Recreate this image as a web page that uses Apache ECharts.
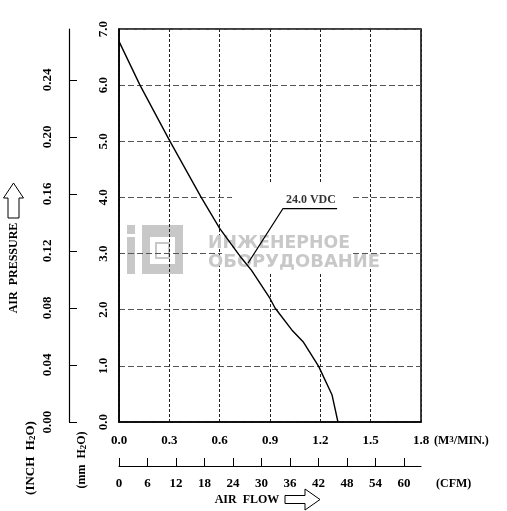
<!DOCTYPE html>
<html><head><meta charset="utf-8">
<script src="https://cdn.jsdelivr.net/npm/echarts@6/dist/echarts.min.js"></script>
<style>html,body{margin:0;padding:0;background:#fff}#c{width:507px;height:511px}</style>
</head><body><div id="c"></div>
<script>
// ---- data ----
const flowM3 = [0, 0.125, 0.30, 0.49, 0.60, 0.73, 0.79, 0.90, 0.93, 1.03, 1.10, 1.19, 1.27, 1.305];
const pressureMm = [6.78, 6.00, 5.02, 4.00, 3.45, 2.92, 2.70, 2.20, 2.03, 1.64, 1.42, 0.99, 0.48, 0.00];
const inchTicks = [0, 0.04, 0.08, 0.12, 0.16, 0.20, 0.24];
const cfmTicks = [0, 6, 12, 18, 24, 30, 36, 42, 48, 54, 60];
const curveLabel = '24.0 VDC';
const labelAt = [1.144, 3.95];
const leaderX = [1.30, 0.977, 0.769];
const leaderY = [3.80, 3.80, 2.83];
const MM_PER_INCH = 25.4;
const CFM_PER_M3MIN = 35.3147;
const flowMax = 1.8, mmMax = 7;

const FONT = '"Liberation Serif", "Times New Roman", serif';
const txt = (size) => ({color: '#000', fontFamily: FONT, fontWeight: 'bold', fontSize: size});

const chart = echarts.init(document.getElementById('c'));

function measure(text, font) {
  const c = document.createElement('canvas').getContext('2d');
  c.font = font; return c.measureText(text).width;
}
const wmFont = 'bold 18px "DejaVu Sans"';
const wm1 = 'ИНЖЕНЕРНОЕ', wm2 = 'ОБОРУДОВАНИЕ';
const s1 = 142 / measure(wm1, wmFont), s2 = 172 / measure(wm2, wmFont);
const WM = '#c8c8c8';

const graphic = [
  // logo (under the grid lines)
  {type: 'rect', z: -1, shape: {x: 127, y: 225, width: 8, height: 9}, style: {fill: WM}},
  {type: 'rect', z: -1, shape: {x: 127, y: 237, width: 8, height: 37}, style: {fill: WM}},
  {type: 'rect', z: -1, shape: {x: 142, y: 225, width: 41, height: 49}, style: {fill: WM}},
  {type: 'rect', z: -1, shape: {x: 150, y: 237, width: 25, height: 27}, style: {fill: '#fff'}},
  {type: 'rect', z: -1, shape: {x: 156, y: 243, width: 13, height: 15}, style: {fill: 'none', stroke: WM, lineWidth: 2}},
  // white covers
  {type: 'rect', z: 1, shape: {x: 232, y: 183, width: 120, height: 52}, style: {fill: '#fff'}},
  {type: 'rect', z: 1, shape: {x: 222, y: 234, width: 130, height: 40}, style: {fill: '#fff'}},
  // watermark texts
  {type: 'text', z: 1, x: 208, y: 243.5, scaleX: s1, style: {text: wm1, font: wmFont, fill: WM, textVerticalAlign: 'middle'}},
  {type: 'text', z: 1, x: 208, y: 262.5, scaleX: s2, style: {text: wm2, font: wmFont, fill: WM, textVerticalAlign: 'middle'}},
  // axis titles
  {type: 'text', z: 10, x: 14, y: 268, rotation: Math.PI / 2,
   style: {text: 'AIR  PRESSURE', font: 'bold 12px ' + FONT, fill: '#000', textAlign: 'center', textVerticalAlign: 'middle'}},
  {type: 'polygon', z: 10, shape: {points: [[13.5, 183], [23.5, 198], [19, 198], [19, 218], [8, 218], [8, 198], [3.5, 198]]},
   style: {fill: 'none', stroke: '#000', lineWidth: 1}},
  {type: 'text', z: 10, x: 31, y: 458, rotation: Math.PI / 2,
   style: {text: '(INCH  H{s|2}O)', fontFamily: FONT, fontWeight: 'bold', fontSize: 13, fill: '#000', textAlign: 'center', textVerticalAlign: 'middle',
     rich: {s: {fontFamily: FONT, fontWeight: 'bold', fontSize: 9, fill: '#000', verticalAlign: 'bottom', lineHeight: 8}}}},
  {type: 'text', z: 10, x: 82, y: 460, rotation: Math.PI / 2,
   style: {text: '(mm  H{s|2}O)', fontFamily: FONT, fontWeight: 'bold', fontSize: 12, fill: '#000', textAlign: 'center', textVerticalAlign: 'middle',
     rich: {s: {fontFamily: FONT, fontWeight: 'bold', fontSize: 9, fill: '#000', verticalAlign: 'bottom', lineHeight: 8}}}},
  {type: 'text', z: 10, x: 434, y: 441,
   style: {text: '(M{s|3}/MIN.)', fontFamily: FONT, fontWeight: 'bold', fontSize: 12, fill: '#000', textAlign: 'left', textVerticalAlign: 'middle',
     rich: {s: {fontFamily: FONT, fontWeight: 'bold', fontSize: 9, fill: '#000', verticalAlign: 'top', lineHeight: 8}}}},
  {type: 'text', z: 10, x: 436, y: 484,
   style: {text: '(CFM)', font: 'bold 12px ' + FONT, fill: '#000', textAlign: 'left', textVerticalAlign: 'middle'}},
  {type: 'text', z: 10, x: 247, y: 500,
   style: {text: 'AIR  FLOW', font: 'bold 12px ' + FONT, fill: '#000', textAlign: 'center', textVerticalAlign: 'middle'}},
  {type: 'polygon', z: 10, shape: {points: [[285, 495.5], [305, 495.5], [305, 489], [320, 499.5], [305, 510], [305, 503.5], [285, 503.5]]},
   style: {fill: 'none', stroke: '#000', lineWidth: 1}}
];

const option = {
  animation: false,
  backgroundColor: '#fff',
  grid: {left: 119, top: 29, width: 302, height: 393, show: true, borderColor: '#000', borderWidth: 1.5, backgroundColor: 'transparent'},
  xAxis: [
    {type: 'value', min: 0, max: flowMax, interval: 0.3, position: 'bottom',
     axisLine: {show: true, lineStyle: {color: '#000', width: 1.5}}, axisTick: {show: false},
     axisLabel: Object.assign({margin: 12, formatter: v => v.toFixed(1)}, txt(13)),
     splitLine: {show: true, lineStyle: {color: '#222', type: [3, 2], width: 1}}},
    {type: 'value', min: 0, max: flowMax * CFM_PER_M3MIN, position: 'bottom', offset: 44,
     axisLine: {show: true, onZero: false, lineStyle: {color: '#000', width: 1.2}},
     axisTick: {show: true, inside: true, length: 8, customValues: cfmTicks, lineStyle: {color: '#000', width: 1}},
     axisLabel: Object.assign({margin: 11, customValues: cfmTicks, formatter: v => String(Math.round(v))}, txt(13)),
     splitLine: {show: false}}
  ],
  yAxis: [
    {type: 'value', min: 0, max: mmMax, interval: 1, position: 'left',
     axisLine: {show: true, lineStyle: {color: '#000', width: 1.5}}, axisTick: {show: false},
     axisLabel: Object.assign({rotate: 90, margin: 9, formatter: v => v.toFixed(1)}, txt(13)),
     splitLine: {show: true, lineStyle: {color: '#555', type: [6, 3], width: 1}}},
    {type: 'value', min: 0, max: mmMax / MM_PER_INCH, position: 'left', offset: 50,
     axisLine: {show: true, onZero: false, lineStyle: {color: '#000', width: 1.2}},
     axisTick: {show: true, inside: true, length: 8, customValues: inchTicks, lineStyle: {color: '#000', width: 1}},
     axisLabel: Object.assign({rotate: 90, margin: 15, customValues: inchTicks, formatter: v => v.toFixed(2)}, txt(13)),
     splitLine: {show: false}}
  ],
  series: [
    {type: 'line', xAxisIndex: 0, yAxisIndex: 0, symbol: 'none', z: 3,
     data: flowM3.map((x, i) => [x, pressureMm[i]]),
     lineStyle: {color: '#000', width: 1.4}},
    {type: 'line', xAxisIndex: 0, yAxisIndex: 0, symbol: 'none', z: 3,
     data: leaderX.map((x, i) => [x, leaderY[i]]),
     lineStyle: {color: '#000', width: 1.1}},
    {type: 'scatter', xAxisIndex: 0, yAxisIndex: 0, z: 4, symbolSize: 1,
     itemStyle: {color: 'rgba(0,0,0,0)'},
     data: [labelAt],
     label: Object.assign({show: true, position: 'inside', formatter: curveLabel}, txt(12))}
  ],
  graphic: graphic
};
chart.setOption(option);
</script></body></html>
